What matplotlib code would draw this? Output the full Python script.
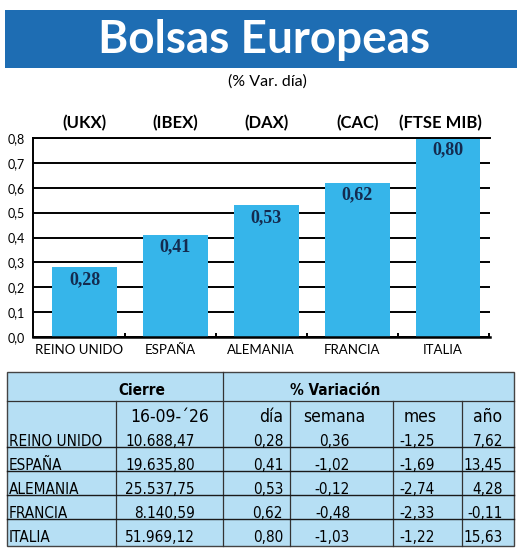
import matplotlib
matplotlib.use("Agg")
import matplotlib.pyplot as plt
from matplotlib import font_manager as fm
from matplotlib.patches import Rectangle

# chart data
paises = ["REINO UNIDO", "ESPAÑA", "ALEMANIA", "FRANCIA", "ITALIA"]
indices = ["(UKX)", "(IBEX)", "(DAX)", "(CAC)", "(FTSE MIB)"]
var_dia = [0.28, 0.41, 0.53, 0.62, 0.80]
y_ticks = [0.0, 0.1, 0.2, 0.3, 0.4, 0.5, 0.6, 0.7, 0.8]

# table data
fecha = "16-09-´26"
cierre = [10688.47, 19635.80, 25537.75, 8140.59, 51969.12]
var_semana = [0.36, -1.02, -0.12, -0.48, -1.03]
var_mes = [-1.25, -1.69, -2.74, -2.33, -1.22]
var_anio = [7.62, 13.45, 4.28, -0.11, 15.63]

W, H = 520, 551
AZUL_TITULO = "#1E6DB3"
AZUL_BARRA = "#36B5EA"
AZUL_TABLA = "#B6DFF4"
TEXTO_VALOR = "#142B4F"
SANS = "Lato"


def find_narrow(bold=False):
    # look for a condensed face among the installed fonts
    want = "bold" if bold else "normal"
    prefs = ["Liberation Sans Narrow", "Noto Sans", "DejaVu Sans", "Open Sans", "Roboto"]
    for name in prefs:
        for f in fm.fontManager.ttflist:
            if f.name != name or f.style != "normal":
                continue
            wt = "bold" if (f.weight in ("bold", 700) or str(f.weight) == "700") else "normal"
            if wt != want:
                continue
            st = str(f.stretch)
            if name == "Liberation Sans Narrow" or ("condensed" in st and "extra" not in st and "ultra" not in st):
                return fm.FontProperties(fname=f.fname), True
    return fm.FontProperties(family="Liberation Sans", weight=want), False


NARROW, is_narrow = find_narrow()
NARROW_B, _ = find_narrow(bold=True)
nsize = 11 if is_narrow else 10


def fmt_es(v, miles=False):
    s = f"{v:,.2f}" if miles else f"{v:.2f}"
    return s.replace(",", "X").replace(".", ",").replace("X", ".")


def px_axes(fig, x0, y0, x1, y1):
    return fig.add_axes([x0 / W, 1 - y1 / H, (x1 - x0) / W, (y1 - y0) / H])


fig = plt.figure(figsize=(W / 100, H / 100), dpi=100)

# overlay in pixel coordinates for banner, subtitles and table
bg = fig.add_axes([0, 0, 1, 1])
bg.set_xlim(0, W)
bg.set_ylim(H, 0)
bg.axis("off")

bg.add_patch(Rectangle((5, 10), 512, 58, color=AZUL_TITULO, lw=0))
bg.text(264, 53, "Bolsas Europeas", color="white", fontsize=33, fontweight="bold",
        family=SANS, ha="center", va="baseline")
bg.text(267, 86, "(% Var. día)", fontsize=11.5, family=SANS, ha="center", va="baseline")

# bar chart
ax = px_axes(fig, 33, 138, 490, 337)
x = list(range(len(var_dia)))
ax.bar(x, var_dia, width=0.71, color=AZUL_BARRA, zorder=2)
ax.set_xlim(-0.567, 4.46)
ax.set_ylim(0, 0.8)
ax.set_yticks(y_ticks)
ax.set_yticklabels([f"{t:.1f}".replace(".", ",") for t in y_ticks], family=SANS, fontsize=9)
ax.yaxis.grid(True, color="black", lw=1.4, zorder=0)
ax.set_axisbelow(True)
ax.tick_params(axis="y", length=0, pad=6)
ax.set_xticks([i + 0.45 for i in x])
ax.set_xticklabels([])
ax.tick_params(axis="x", direction="in", length=3, width=1.4)
ax.spines["right"].set_visible(False)
ax.spines["top"].set_linewidth(1.4)
ax.spines["left"].set_linewidth(1.4)
ax.spines["bottom"].set_linewidth(1.8)

for i, v in enumerate(var_dia):
    ax.annotate(fmt_es(v), (i, v), xytext=(0, -12), textcoords="offset points",
                ha="center", va="baseline", fontsize=13, fontweight="bold",
                family="Liberation Serif", color=TEXTO_VALOR)
    ax.annotate(paises[i], (i - 0.06, 0), xytext=(0, -12.5), textcoords="offset points",
                ha="center", va="baseline", fontsize=9.5, family=SANS, annotation_clip=False)
    dx = -0.08 if i == len(var_dia) - 1 else 0
    ax.annotate(indices[i], (i + dx, 0.8), xytext=(0, 7), textcoords="offset points",
                ha="center", va="baseline", fontsize=12, fontweight="bold", family=SANS,
                annotation_clip=False)

# table
top, head, bottom = 372, 401, 546
left, right = 7, 514
bg.add_patch(Rectangle((left, top), right - left, bottom - top, facecolor=AZUL_TABLA,
                       edgecolor="#444444", lw=1))
bg.plot([left, right], [head, head], color="#333333", lw=0.9)
bg.plot([223, 223], [top, bottom], color="#333333", lw=0.9)
for xv in [116, 290, 393, 462]:
    bg.plot([xv, xv], [head, bottom], color="#333333", lw=0.9)

bg.text(142, 395, "Cierre", fontproperties=NARROW_B, fontsize=nsize, ha="center", va="baseline")
bg.text(335, 395, "% Variación", fontproperties=NARROW_B, fontsize=nsize, ha="center", va="baseline")
hdr = dict(fontproperties=NARROW, fontsize=nsize + 1.5, va="baseline")
bg.text(169.5, 422, fecha, ha="center", **hdr)
bg.text(283, 422, "día", ha="right", **hdr)
bg.text(334, 422, "semana", ha="center", **hdr)
bg.text(420, 422, "mes", ha="center", **hdr)
bg.text(502, 422, "año", ha="right", **hdr)

cell = dict(fontproperties=NARROW, fontsize=nsize, va="baseline")
for r in range(len(paises)):
    line_y = 447 + 24 * r
    base = line_y - 1.5
    if r < len(paises) - 1:
        bg.plot([left, right], [line_y, line_y], color="#1a1a1a", lw=1.0)
    bg.text(9, base, paises[r], ha="left", **cell)
    bg.text(195, base, fmt_es(cierre[r], miles=True), ha="right", **cell)
    bg.text(283, base, fmt_es(var_dia[r]), ha="right", **cell)
    bg.text(350, base, fmt_es(var_semana[r]), ha="right", **cell)
    bg.text(435, base, fmt_es(var_mes[r]), ha="right", **cell)
    bg.text(503, base, fmt_es(var_anio[r]), ha="right", **cell)

fig.savefig("out.png", dpi=100)
